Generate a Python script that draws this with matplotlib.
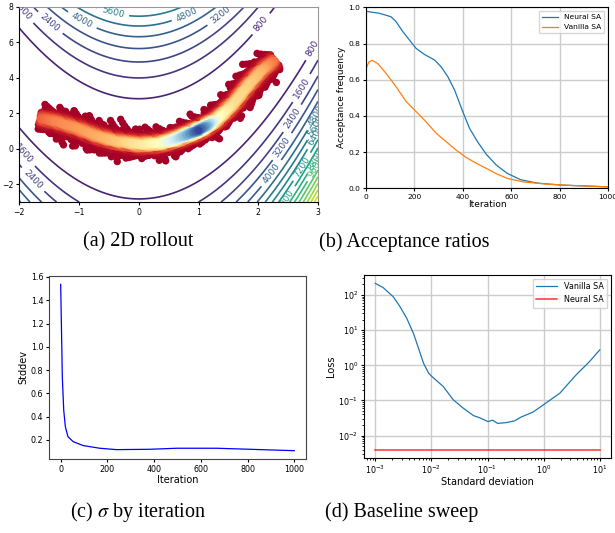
import numpy as np
import matplotlib.pyplot as plt

W, H = 615, 533

# ---- (a) 2D rollout on the Rosenbrock surface ----
ROSEN_A, ROSEN_B = 1.0, 100.0
contour_levels = np.arange(800, 15000, 800)

# centre line of the sample cloud, its core colour value and half width (px)
path_x = [-1.66, -1.40, -1.05, -0.70, -0.38, 0.01, 0.35, 0.60, 0.85, 1.00, 1.15, 1.30, 1.57, 1.84, 2.05, 2.28]
path_y = [1.72, 1.55, 1.18, 0.72, 0.42, 0.24, 0.30, 0.52, 0.85, 1.05, 1.32, 1.64, 2.50, 3.62, 4.40, 5.00]
path_core = [0.18, 0.24, 0.27, 0.30, 0.35, 0.43, 0.50, 0.64, 0.84, 0.98, 0.80, 0.52, 0.40, 0.37, 0.32, 0.20]
path_halfwidth = [13, 17, 18, 18, 19, 18, 17, 16, 16, 16, 16, 16, 16, 17, 17, 13]
outlier_x = [-1.38, -1.26, -0.36, 0.45, 0.05, 1.32, -1.05, 0.62]
outlier_y = [0.55, 0.22, -0.72, -0.68, -0.55, 0.62, 1.05, -0.45]

# ---- (b) acceptance ratios ----
neural_iter = [0, 55, 103, 124, 152, 179, 207, 241, 283, 310, 338, 366, 400, 428,
               462, 497, 538, 583, 638, 706, 803, 886, 1000]
neural_acc = [0.978, 0.967, 0.948, 0.921, 0.866, 0.82, 0.773, 0.74, 0.709, 0.672,
              0.617, 0.543, 0.423, 0.331, 0.255, 0.188, 0.129, 0.083, 0.048, 0.029,
              0.018, 0.014, 0.008]
vanilla_iter = [0, 11, 25, 48, 83, 124, 166, 207, 248, 290, 331, 372, 414, 455,
                497, 538, 583, 651, 748, 858, 1000]
vanilla_acc = [0.660, 0.696, 0.707, 0.69, 0.635, 0.562, 0.479, 0.424, 0.368, 0.304,
               0.258, 0.212, 0.170, 0.139, 0.110, 0.081, 0.055, 0.035, 0.023, 0.015, 0.008]

# ---- (c) sigma by iteration ----
sigma_iter = [0, 4, 7, 13, 20, 31, 53, 96, 167, 239, 381, 496, 667, 810, 1000]
sigma_val = [1.537, 1.082, 0.74, 0.456, 0.314, 0.229, 0.186, 0.152, 0.129, 0.117,
             0.12, 0.129, 0.129, 0.12, 0.108]

# ---- (d) baseline sweep (log10 values) ----
sweep_log_std = [-3.0, -2.86, -2.68, -2.56, -2.44, -2.32, -2.23, -2.14, -2.05, -1.99,
                 -1.79, -1.61, -1.43, -1.25, -1.14, -0.99, -0.91, -0.82, -0.67, -0.52,
                 -0.40, -0.19, -0.01, 0.29, 0.58, 0.82, 1.0]
sweep_log_loss = [2.33, 2.21, 1.95, 1.67, 1.34, 0.91, 0.49, 0.06, -0.22, -0.32,
                  -0.60, -0.98, -1.22, -1.43, -1.49, -1.60, -1.56, -1.65, -1.63, -1.58,
                  -1.47, -1.33, -1.13, -0.79, -0.27, 0.11, 0.44]
neural_sweep_loss = 0.004

plt.rcParams["mathtext.fontset"] = "stix"


def box(left, top, right, bottom):
    return [left / W, 1 - bottom / H, (right - left) / W, (bottom - top) / H]


def rollout_cloud():
    sx, sy = 59.6, 17.7  # px per data unit
    px = np.array(path_x) * sx
    py = np.array(path_y) * sy
    seg = np.hypot(np.diff(px), np.diff(py))
    s = np.concatenate([[0], np.cumsum(seg)])
    n = 2200
    k = np.arange(n)
    t = (k + 0.5) / n * s[-1]
    u = ((k * 0.6180339887) % 1.0) * 2 - 1
    v = (k * 0.7548776662) % 1.0
    w = (k * 0.5698402910) % 1.0
    cx = np.interp(t, s, px)
    cy = np.interp(t, s, py)
    idx = np.clip(np.searchsorted(s, t) - 1, 0, len(seg) - 1)
    tx = np.diff(px)[idx] / seg[idx]
    ty = np.diff(py)[idx] / seg[idx]
    hw = np.interp(t, s, path_halfwidth) * (0.5 + 0.75 * v * w)
    off = u * hw
    x = (cx - ty * off) / sx
    y = (cy + tx * off) / sy
    val = np.interp(t, s, path_core) * np.exp(-(off / 5.0) ** 2)
    x = np.concatenate([x, outlier_x])
    y = np.concatenate([y, outlier_y])
    val = np.concatenate([val, np.zeros(len(outlier_x))])
    order = np.argsort(val)
    return x[order], y[order], val[order]


fig = plt.figure(figsize=(W / 100, H / 100), dpi=100)

# (a)
ax = fig.add_axes(box(19.3, 7, 318, 202))
gx, gy = np.meshgrid(np.linspace(-2, 3, 400), np.linspace(-3, 8, 400))
gz = (ROSEN_A - gx) ** 2 + ROSEN_B * (gy - gx ** 2) ** 2
cs = ax.contour(gx, gy, gz, levels=contour_levels, cmap="viridis",
                vmin=-700, vmax=14400, linewidths=1.2)
ax.clabel(cs, inline=True, fontsize=6.5, fmt="%d")
rx, ry, rv = rollout_cloud()
ax.scatter(rx, ry, c=rv, cmap="RdYlBu", vmin=0, vmax=1, s=28, edgecolors="none", zorder=3)
ax.set_xlim(-2, 3)
ax.set_ylim(-3, 8)
ax.set_xticks([-2, -1, 0, 1, 2, 3])
ax.set_yticks([-2, 0, 2, 4, 6, 8])
ax.tick_params(labelsize=5.6, length=2.5, pad=1.5)
for side in ("top", "right"):
    ax.spines[side].set_color("#999999")

# (b)
ax = fig.add_axes(box(366, 7.3, 608, 188.3))
ax.plot(neural_iter, neural_acc, color="C0", lw=0.9, label="Neural SA")
ax.plot(vanilla_iter, vanilla_acc, color="C1", lw=0.9, label="Vanilla SA")
ax.set_xlim(0, 1000)
ax.set_ylim(0, 1.0)
ax.grid(True, color="#cccccc", lw=1.0)
ax.set_xlabel("Iteration", fontsize=6.5, labelpad=0)
ax.set_ylabel("Acceptance frequency", fontsize=6.5, labelpad=2)
ax.tick_params(labelsize=5.4, length=2.5, pad=1.5)
ax.legend(loc="upper right", fontsize=5.4, handlelength=2.2, borderpad=0.4, fancybox=False)

# (c)
ax = fig.add_axes(box(49, 276, 306, 459))
ax.plot(sigma_iter, sigma_val, color="b", lw=0.9)
ax.set_xticks([0, 200, 400, 600, 800, 1000])
ax.set_yticks([0.2, 0.4, 0.6, 0.8, 1.0, 1.2, 1.4, 1.6])
ax.set_xlabel("Iteration", fontsize=7, labelpad=1)
ax.set_ylabel("Stddev", fontsize=7, labelpad=2)
ax.tick_params(labelsize=5.8, length=2.5, pad=1.5)
for sp in ax.spines.values():
    sp.set_color("#444444")

# (d)
ax = fig.add_axes(box(364, 275, 611, 458))
std = 10.0 ** np.array(sweep_log_std)
loss = 10.0 ** np.array(sweep_log_loss)
ax.plot(std, loss, color="C0", lw=0.9, label="Vanilla SA")
ax.plot([std[0], std[-1]], [neural_sweep_loss, neural_sweep_loss], color="red",
        lw=1.1, alpha=0.8, label="Neural SA")
ax.set_xscale("log")
ax.set_yscale("log")
ax.grid(True, color="#cccccc", lw=1.0)
ax.set_xlabel("Standard deviation", fontsize=7, labelpad=1)
ax.set_ylabel("Loss", fontsize=7, labelpad=2)
ax.tick_params(labelsize=5.8, length=2.5, pad=1.5)
ax.tick_params(which="minor", length=1.5)
ax.legend(loc="upper right", fontsize=5.8, handlelength=2.6, borderpad=0.4, fancybox=False)

# captions
cap = dict(fontsize=14.5, family="Liberation Serif", ha="center", va="center")
fig.text(138 / W, 1 - 242 / H, "(a) 2D rollout", **cap)
fig.text(404 / W, 1 - 242 / H, "(b) Acceptance ratios", **cap)
fig.text(138 / W, 1 - 512 / H, r"(c) $\sigma$ by iteration", **cap)
fig.text(402 / W, 1 - 512 / H, "(d) Baseline sweep", **cap)

fig.savefig("out.png", dpi=100)
